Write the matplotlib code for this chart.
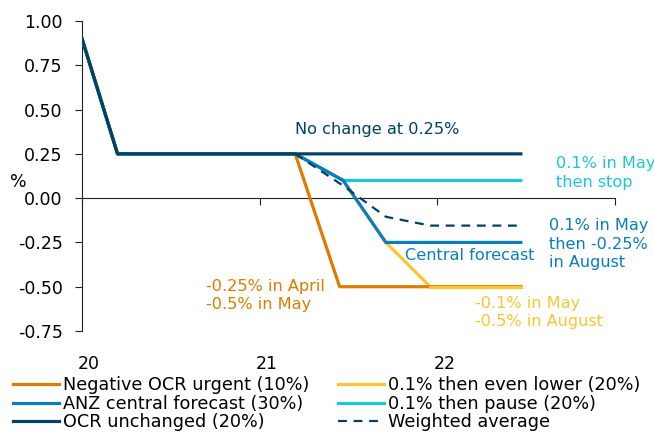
import matplotlib.pyplot as plt
import matplotlib.transforms as mtransforms

# time in years (20 = Jan 2020)
x_urgent = [20.0, 20.2, 21.2, 21.45, 22.47]
y_urgent = [0.9, 0.25, 0.25, -0.5, -0.5]

x_lower = [20.0, 20.2, 21.2, 21.47, 21.71, 21.96, 22.47]
y_lower = [0.9, 0.25, 0.25, 0.1, -0.25, -0.5, -0.5]

x_central = [20.0, 20.2, 21.2, 21.47, 21.71, 22.47]
y_central = [0.9, 0.25, 0.25, 0.1, -0.25, -0.25]

x_pause = [20.0, 20.2, 21.2, 21.47, 22.47]
y_pause = [0.9, 0.25, 0.25, 0.1, 0.1]

x_unch = [20.0, 20.2, 22.47]
y_unch = [0.9, 0.25, 0.25]

x_wavg = [21.2, 21.47, 21.71, 21.96, 22.47]
y_wavg = [0.25, 0.07, -0.105, -0.155, -0.155]

c_orange = '#E07B00'
c_yellow = '#FDC530'
c_blue = '#0A7DBF'
c_cyan = '#1CC6DA'
c_navy = '#004165'

plt.rcParams['font.family'] = 'DejaVu Sans'
fig = plt.figure(figsize=(6.54, 4.36), dpi=100)
ax = fig.add_axes([0.1254, 0.2408, 0.815, 0.711])

lw = 2.3
ax.plot(x_urgent, y_urgent, color=c_orange, lw=lw, label='Negative OCR urgent (10%)', zorder=3)
ax.plot(x_lower, y_lower, color=c_yellow, lw=lw, label='0.1% then even lower (20%)', zorder=2)
ax.plot(x_central, y_central, color=c_blue, lw=lw, label='ANZ central forecast (30%)', zorder=4)
ax.plot(x_pause, y_pause, color=c_cyan, lw=lw, label='0.1% then pause (20%)', zorder=3)
ax.plot(x_unch, y_unch, color=c_navy, lw=lw, label='OCR unchanged (20%)', zorder=6)
ax.plot(x_wavg, y_wavg, color=c_navy, lw=1.6, ls=(0, (4, 3)), label='Weighted average', zorder=5)
# yellow drawn over orange for final segment
ax.plot(x_lower[-2:], y_lower[-2:], color=c_yellow, lw=lw, zorder=4)

ax.set_xlim(20, 23)
ax.set_ylim(-0.75, 1.0)
ax.set_yticks([-0.75, -0.5, -0.25, 0, 0.25, 0.5, 0.75, 1.0])
ax.set_yticklabels(['-0.75', '-0.50', '-0.25', '0.00', '0.25', '0.50', '0.75', '1.00'])
ax.set_xticks([20, 21, 22, 23])
ax.set_xticklabels([])

for s in ['top', 'right']:
    ax.spines[s].set_visible(False)
ax.spines['bottom'].set_position(('data', 0))
ax.spines['bottom'].set_color('#222222')
ax.spines['left'].set_color('#222222')
ax.tick_params(axis='y', length=5, color='#222222', labelsize=12.5, pad=9)
ax.tick_params(axis='x', length=5, color='#222222', direction='out')

fs = 11.6
trans = mtransforms.blended_transform_factory(ax.transData, ax.transAxes)
offset = mtransforms.ScaledTranslation(7 / 100, 0, fig.dpi_scale_trans)
for yr in [20, 21, 22]:
    ax.text(yr, -0.106, str(yr), transform=trans + offset, ha='center', va='center', fontsize=12.5)

fig.text(10 / 654, 1 - 182 / 436, '%', fontsize=12.5, ha='left', va='center')

ax.text(21.2, 0.39, 'No change at 0.25%', color=c_navy, fontsize=fs, ha='left', va='center')
ax.text(22.67, 0.141, '0.1% in May\nthen stop', color=c_cyan, fontsize=fs, ha='left', va='center',
        linespacing=1.38, clip_on=False)
ax.text(22.63, -0.259, '0.1% in May\nthen -0.25%\nin August', color=c_blue, fontsize=fs, ha='left',
        va='center', linespacing=1.27, clip_on=False)
ax.text(21.82, -0.321, 'Central forecast', color=c_blue, fontsize=fs, ha='left', va='center')
ax.text(20.698, -0.549, '-0.25% in April\n-0.5% in May', color=c_orange, fontsize=fs, ha='left',
        va='center', linespacing=1.3)
ax.text(22.21, -0.645, '-0.1% in May\n-0.5% in August', color=c_yellow, fontsize=fs, ha='left',
        va='center', linespacing=1.3)

handles, labels = ax.get_legend_handles_labels()
order = [0, 2, 4, 1, 3, 5]
leg = fig.legend([handles[i] for i in order], [labels[i] for i in order],
                 loc='upper left', bbox_to_anchor=(0.02, 0.137), ncol=2, frameon=False,
                 fontsize=12.7, handlelength=2.6, handletextpad=0.25, columnspacing=1.6,
                 labelspacing=0.03, borderaxespad=0, borderpad=0)

fig.savefig('out.png', dpi=100)
